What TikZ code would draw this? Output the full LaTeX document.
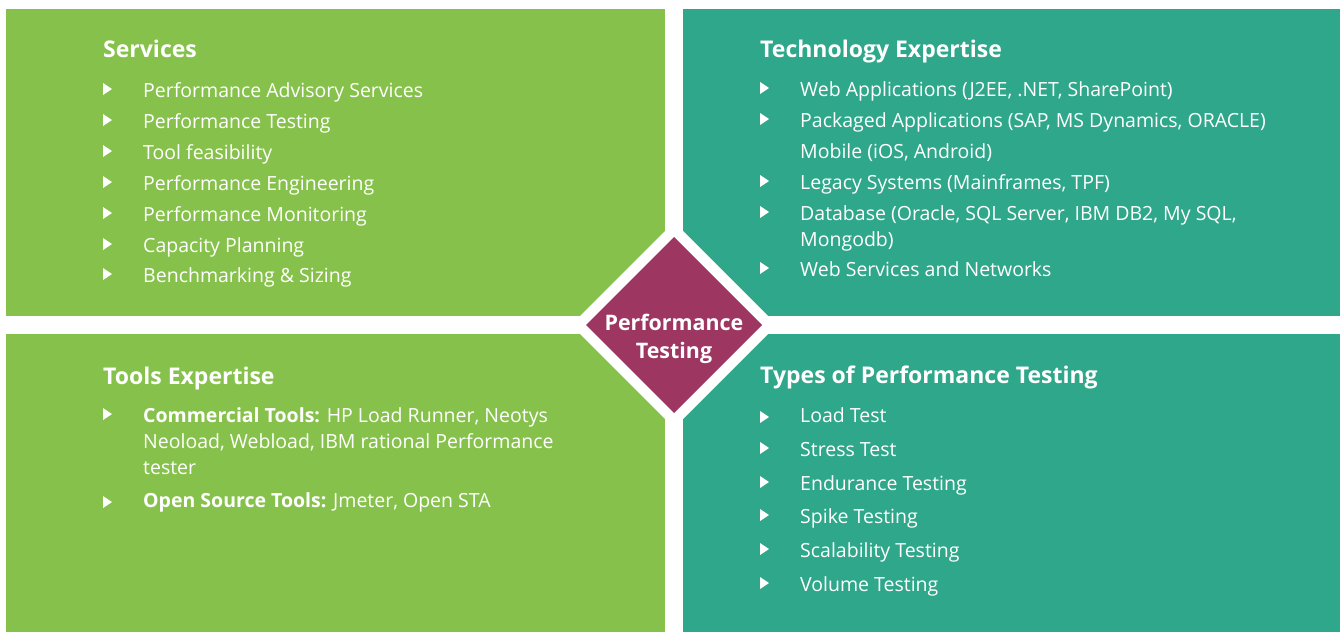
\documentclass[tikz,border=0pt]{standalone}
\usepackage{fontspec}
\setmainfont{Open Sans}
\usetikzlibrary{calc}
\definecolor{cgreen}{RGB}{134,194,75}
\definecolor{cteal}{RGB}{47,167,138}
\definecolor{cmag}{RGB}{157,54,97}
\newcommand{\tri}[2]{\fill[white] (#1,#2-14) -- ++(9,6) -- ++(-9,6) -- cycle;}
\tikzset{
  panel/.style={fill=#1, draw=none},
  ttl/.style={anchor=base west, inner sep=0pt, text=white, font=\fontsize{23}{27}\selectfont\bfseries},
  itm/.style={anchor=base west, inner sep=0pt, text=white, font=\fontsize{19.5}{26}\selectfont},
}
\begin{document}
\begin{tikzpicture}[x=1pt,y=-1pt]
\useasboundingbox (0,0) rectangle (1340,632);
\fill[white] (0,0) rectangle (1340,632);
\fill[panel=cgreen] (6,9) rectangle (665,316);
\fill[panel=cteal] (683,9) rectangle (1340,316);
\fill[panel=cgreen] (6,334) rectangle (665,632);
\fill[panel=cteal] (683,334) rectangle (1340,632);
\fill[white] (674,222) -- (777,325) -- (674,428) -- (571,325) -- cycle;
\fill[cmag] (674,237) -- (762,325) -- (674,413) -- (586,325) -- cycle;
\node[align=center, text=white, font=\fontsize{21.4}{28}\selectfont\bfseries] (pt) at (674,339) {Performance\\Testing};
% Services
\node[ttl] (s0) at (103,57) {Services};
\foreach \y/\t [count=\i] in {97/Performance Advisory Services,128/Performance Testing,159/Tool feasibility,190/Performance Engineering,221/Performance Monitoring,252/Capacity Planning,282/Benchmarking \& Sizing}{
  \node[itm] (s\i) at (143,\y) {\t};
  \tri{103}{\y}
}
% Technology
\node[ttl] (t0) at (760,57) {Technology Expertise};
\node[itm] (t1) at (800,96) {Web Applications (J2EE, .NET, SharePoint)};
\node[itm] (t2) at (800,127) {Packaged Applications (SAP, MS Dynamics, ORACLE)};
\node[itm] (t3) at (800,158) {Mobile (iOS, Android)};
\node[itm] (t4) at (800,189) {Legacy Systems (Mainframes, TPF)};
\node[itm] (t5) at (800,220) {Database (Oracle, SQL Server, IBM DB2, My SQL,};
\node[itm] (t6) at (800,246) {Mongodb)};
\node[itm] (t7) at (800,276) {Web Services and Networks};
\foreach \y in {96,127,189,220,276}{\tri{760}{\y}}
% Tools
\node[ttl] (o0) at (103,384) {Tools Expertise};
\node[itm] (o1) at (143,422) {\textbf{Commercial Tools:} HP Load Runner, Neotys};
\node[itm] (o2) at (143,448) {Neoload, Webload, IBM rational Performance};
\node[itm] (o3) at (143,474) {tester};
\node[itm] (o4) at (143,507) {\textbf{Open Source Tools:} Jmeter, Open STA};
\tri{103}{422}
\tri{103}{510}
% Types
\node[ttl] (p0) at (760,383) {Types of Performance Testing};
\foreach \y/\t [count=\i] in {422/Load Test,456/Stress Test,490/Endurance Testing,523/Spike Testing,557/Scalability Testing,591/Volume Testing}{
  \node[itm] (p\i) at (800,\y) {\t};
}
\foreach \y in {425,456,490,523,557,591}{\tri{760}{\y}}
\end{tikzpicture}
\end{document}
